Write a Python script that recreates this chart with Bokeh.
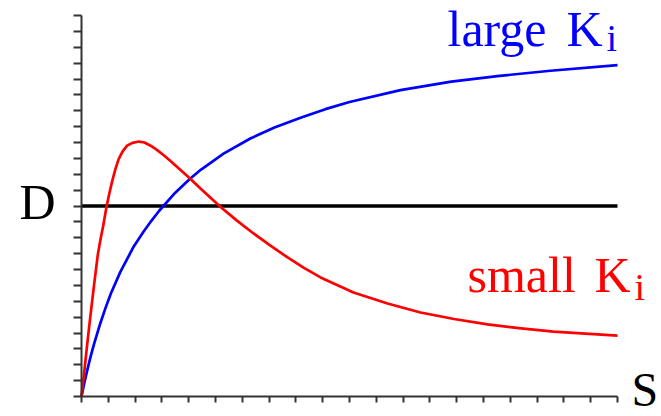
from bokeh.plotting import figure
from bokeh.models import Range1d, FixedTicker, Label, LinearAxis
from bokeh.embed import file_html
from bokeh.resources import INLINE

# ---- data (S in x-tick units, D in y-tick units) ----
S_large = [0, 0.1, 0.2, 0.33, 0.45, 0.7, 0.9, 1.1, 1.45, 1.95, 2.3, 2.6, 2.9,
           3.45, 4.05, 4.45, 5.3, 6.3, 7.2, 8.2, 9.1, 10.0, 11.9, 13.8, 15.6,
           17.5, 20.0]
D_large = [0, 0.8, 1.55, 2.45, 3.2, 4.6, 5.6, 6.5, 7.85, 9.45, 10.35, 11.05,
           11.7, 12.75, 13.72, 14.28, 15.3, 16.25, 16.95, 17.58, 18.1, 18.55,
           19.3, 19.83, 20.2, 20.52, 20.87]

S_small = [0, 0.08, 0.15, 0.23, 0.31, 0.46, 0.61, 0.71, 0.81, 0.93, 1.04, 1.15,
           1.27, 1.39, 1.53, 1.7, 1.9, 2.14, 2.35, 2.58, 2.8, 3.07, 3.32, 3.57,
           4.07, 4.44, 5.19, 5.8, 6.42, 7.05, 7.69, 8.3, 8.92, 10.15, 11.42,
           12.65, 13.9, 15.15, 16.4, 17.61, 20.0]
D_small = [0, 1.2, 2.3, 3.55, 4.75, 6.9, 8.95, 9.9, 10.75, 11.92, 12.8, 13.6,
           14.35, 14.97, 15.43, 15.8, 15.98, 16.06, 16.0, 15.8, 15.55, 15.2,
           14.83, 14.45, 13.7, 13.1, 11.94, 11.08, 10.27, 9.5, 8.76, 8.1, 7.5,
           6.55, 5.86, 5.29, 4.88, 4.54, 4.29, 4.09, 3.84]

S_ticks = list(range(0, 21))
D_ticks = list(range(0, 25))
D_level = 12

FONT = "Liberation Serif"
W, H = 661, 416
X0_PX, Y0_PX = 81, 396          # pixel position of the origin
PX_PER_S, PX_PER_D = 26.8, 15.875
TEXT_SHIFT = 19                 # renderer places text this much lower

p = figure(width=W, height=H,
           min_border_left=0, min_border_right=0,
           min_border_top=0, min_border_bottom=0,
           x_range=Range1d(-X0_PX / PX_PER_S, (W - X0_PX) / PX_PER_S),
           y_range=Range1d((Y0_PX - H) / PX_PER_D, Y0_PX / PX_PER_D),
           output_backend="svg", toolbar_location=None,
           x_axis_location=None, y_axis_location=None)
p.grid.visible = False
p.outline_line_color = None
p.background_fill_color = "white"
p.border_fill_color = "white"

xaxis = LinearAxis(ticker=FixedTicker(ticks=S_ticks), fixed_location=0,
                   bounds=(S_ticks[0], S_ticks[-1]))
yaxis = LinearAxis(ticker=FixedTicker(ticks=D_ticks), fixed_location=0,
                   bounds=(D_ticks[0], D_ticks[-1]))
for ax, tout, ticks in ((xaxis, 6, S_ticks), (yaxis, 8, D_ticks)):
    ax.major_tick_out = tout
    ax.major_tick_in = 0
    ax.minor_tick_out = 0
    ax.minor_tick_in = 0
    ax.axis_line_width = 2
    ax.axis_line_color = "#333333"
    ax.major_tick_line_width = 2
    ax.major_tick_line_color = "#333333"
    ax.major_label_overrides = {t: "" for t in ticks}
p.add_layout(xaxis, "below")
p.add_layout(yaxis, "left")

# horizontal reference level D
p.line([S_ticks[0], S_ticks[-1]], [D_level, D_level], line_color="black",
       line_width=3.5)

p.line(S_large, D_large, line_color="#0000FF", line_width=2.7, line_join="round")
p.line(S_small, D_small, line_color="#FF0000", line_width=2.7, line_join="round")


def lab(px, py, t, color, size):
    py = py - TEXT_SHIFT
    p.add_layout(Label(x=(px - X0_PX) / PX_PER_S, y=(Y0_PX - py) / PX_PER_D,
                       text=t, text_color=color, text_font=FONT,
                       text_font_size=size, text_baseline="alphabetic",
                       text_align="left"))


lab(447, 47.7, "large", "#0000FF", "50px")
lab(566, 47.7, "K", "#0000FF", "50px")
lab(606, 56.5, "i", "#0000FF", "38px")

lab(467, 293.3, "small", "#FF0000", "50px")
lab(594, 293.3, "K", "#FF0000", "50px")
lab(634, 305, "i", "#FF0000", "38px")

lab(19, 220, "D", "black", "50px")
lab(631, 408, "S", "black", "48px")

open("out.html", "w").write(file_html(p, INLINE))
